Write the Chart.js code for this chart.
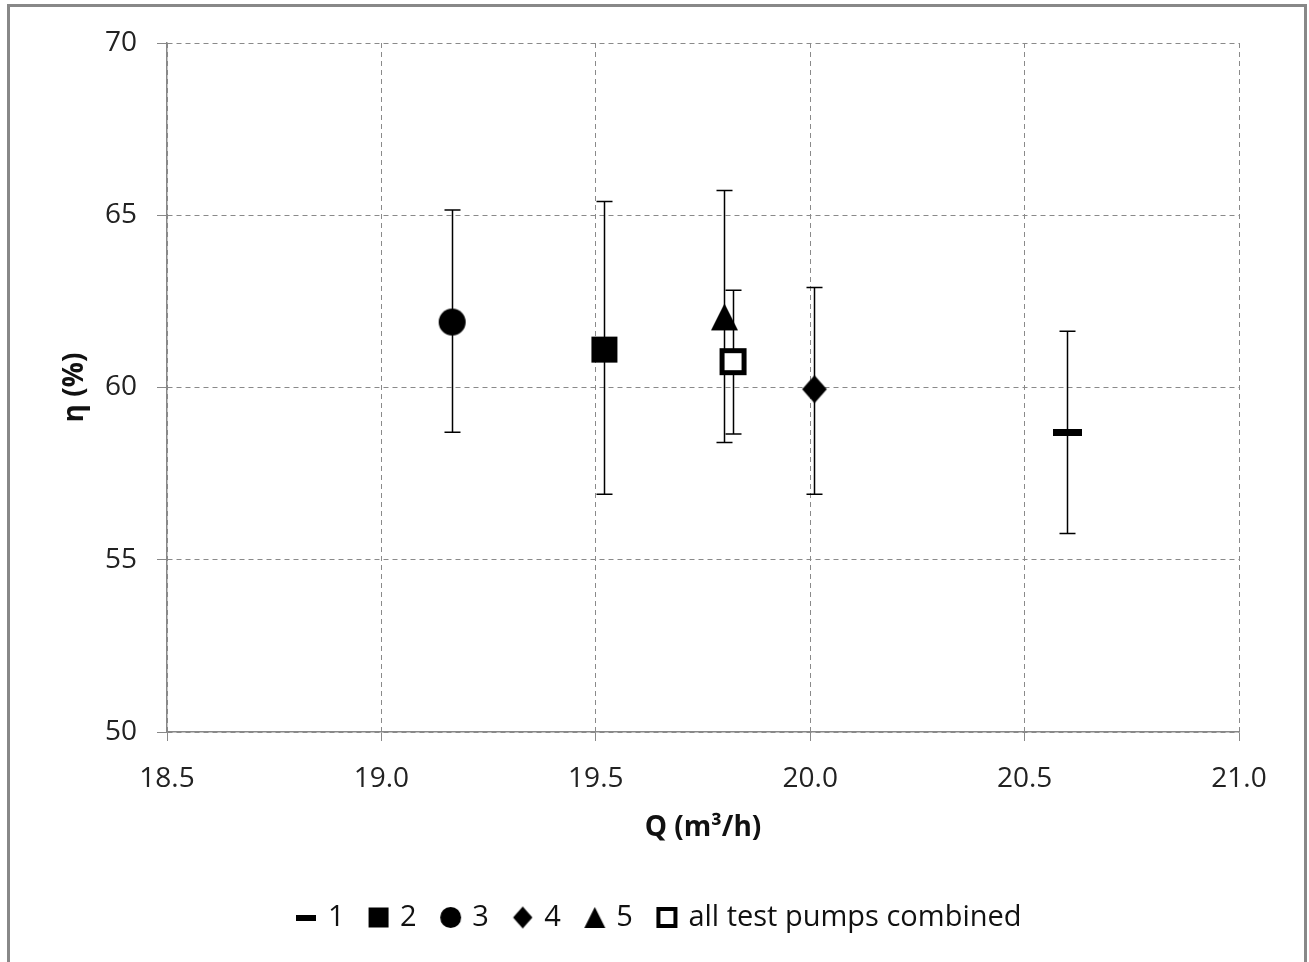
<!DOCTYPE html>
<html>
<head>
<meta charset="utf-8">
<script src="https://cdn.jsdelivr.net/npm/chart.js@4.4.1/dist/chart.umd.min.js"></script>
<style>
  html, body { margin: 0; padding: 0; background: #fff; }
  #wrap { width: 1309px; height: 962px; }
</style>
</head>
<body>
<div id="wrap"><canvas id="effChart" width="1309" height="962"></canvas></div>
<script>
// data
const seriesLabels = ['1', '2', '3', '4', '5', 'all test pumps combined'];
const flowQ = [20.60, 19.52, 19.165, 20.01, 19.80, 19.82];      // m3/h
const etaMean = [58.7, 61.1, 61.9, 59.95, 62.05, 60.75];        // %
const etaUpper = [61.63, 65.4, 65.15, 62.9, 65.72, 62.82];
const etaLower = [55.76, 56.9, 58.7, 56.9, 58.4, 58.65];
const xTicks = [18.5, 19.0, 19.5, 20.0, 20.5, 21.0];
const yTicks = [50, 55, 60, 65, 70];

const FONT = "'Open Sans', 'Noto Sans', sans-serif";

// marker drawing on little canvases, so the same shapes go in chart and legend
function marker(kind, s) {
  const c = document.createElement('canvas');
  const w = kind === 'dash' ? Math.round(s * 1.1) : s + 2;
  const h = kind === 'dash' ? Math.max(6, Math.round(s * 0.26)) : s + 2;
  c.width = w; c.height = h;
  const g = c.getContext('2d');
  g.fillStyle = '#000';
  if (kind === 'dash') {
    g.fillRect(0, 0, w, h);
  } else if (kind === 'square') {
    g.fillRect(1, 1, s, s);
  } else if (kind === 'circle') {
    g.beginPath(); g.arc(w / 2, h / 2, s / 2, 0, Math.PI * 2); g.fill();
  } else if (kind === 'diamond') {
    g.beginPath();
    g.moveTo(w / 2, 1); g.lineTo(w / 2 + s * 0.44, h / 2);
    g.lineTo(w / 2, h - 1); g.lineTo(w / 2 - s * 0.44, h / 2);
    g.closePath(); g.fill();
  } else if (kind === 'triangle') {
    g.beginPath();
    g.moveTo(w / 2, 1); g.lineTo(w - 1, h - 1); g.lineTo(1, h - 1);
    g.closePath(); g.fill();
  } else if (kind === 'open') {
    const b = Math.round(s * 0.19);
    g.fillRect(1, 1, s, s);
    g.fillStyle = '#fff';
    g.fillRect(1 + b, 1 + b, s - 2 * b, s - 2 * b);
  }
  return c;
}

const kinds = ['dash', 'square', 'circle', 'diamond', 'triangle', 'open'];
const chartSizes = [26, 26, 27, 28, 27, 27];
const legendSizes = [18, 20, 21, 22, 21, 21];
const chartMarkers = kinds.map((k, i) => marker(k, chartSizes[i]));
const legendMarkers = kinds.map((k, i) => marker(k, legendSizes[i]));

const datasets = seriesLabels.map((lbl, i) => ({
  label: lbl,
  data: [{ x: flowQ[i], y: etaMean[i] }],
  pointStyle: chartMarkers[i],
  backgroundColor: '#000',
  borderColor: '#000'
}));

// vertical error bars with caps, under the markers
const errorBars = {
  id: 'errorBars',
  beforeDatasetsDraw(chart) {
    const { ctx, scales: { x, y } } = chart;
    ctx.save();
    ctx.strokeStyle = '#000';
    ctx.lineWidth = 1.5;
    flowQ.forEach((q, i) => {
      const px = Math.round(x.getPixelForValue(q)) + 0.5;
      const top = y.getPixelForValue(etaUpper[i]);
      const bot = y.getPixelForValue(etaLower[i]);
      ctx.beginPath();
      ctx.moveTo(px, top); ctx.lineTo(px, bot);
      ctx.moveTo(px - 8, top); ctx.lineTo(px + 8, top);
      ctx.moveTo(px - 8, bot); ctx.lineTo(px + 8, bot);
      ctx.stroke();
    });
    ctx.restore();
  }
};

// grey frame around the whole picture, and the legend nudged to the right
const frame = {
  id: 'frame',
  afterLayout(chart) {
    if (chart.legend) { chart.legend.left += 36; chart.legend.right += 36; }
  },
  afterDraw(chart) {
    const ctx = chart.ctx;
    ctx.save();
    ctx.strokeStyle = '#888';
    ctx.lineWidth = 3;
    ctx.strokeRect(8.5, 5.5, 1297, 980);
    ctx.restore();
  }
};

new Chart(document.getElementById('effChart'), {
  type: 'scatter',
  data: { datasets },
  plugins: [errorBars, frame],
  options: {
    responsive: false,
    animation: false,
    layout: { padding: { left: 10, top: 43, right: 70, bottom: 20 } },
    elements: { point: { radius: 13, hoverRadius: 13 } },
    plugins: {
      tooltip: { enabled: false },
      legend: {
        position: 'bottom',
        labels: {
          usePointStyle: true,
          pointStyleWidth: 14,
          padding: 27,
          color: '#111',
          font: { family: FONT, size: 29 },
          generateLabels(chart) {
            return Chart.defaults.plugins.legend.labels.generateLabels(chart).map((it, i) => {
              it.pointStyle = legendMarkers[i];
              return it;
            });
          }
        }
      }
    },
    scales: {
      x: {
        type: 'linear',
        min: xTicks[0],
        max: xTicks[xTicks.length - 1],
        afterBuildTicks(scale) { scale.ticks = xTicks.map(v => ({ value: v })); },
        afterFit(scale) { scale.height = 144; },
        ticks: {
          color: '#222',
          padding: 21,
          font: { family: FONT, size: 28 },
          callback: v => Number(v).toFixed(1)
        },
        grid: {
          color: '#8a8a8a',
          tickLength: 9,
          tickColor: '#888',
          tickBorderDash: []
        },
        border: { display: true, color: '#888', width: 1.5, dash: [5, 4] },
        title: {
          display: true,
          text: 'Q (m³/h)',
          color: '#111',
          font: { family: FONT, size: 28, weight: 'bold' },
          padding: { top: 0, bottom: 31 }
        }
      },
      y: {
        type: 'linear',
        min: yTicks[0],
        max: yTicks[yTicks.length - 1],
        afterBuildTicks(scale) { scale.ticks = yTicks.map(v => ({ value: v })); },
        afterFit(scale) { scale.width = 157; },
        ticks: {
          color: '#222',
          padding: 20,
          font: { family: FONT, size: 28 }
        },
        grid: {
          color: '#8a8a8a',
          tickLength: 10,
          tickColor: '#888',
          tickBorderDash: []
        },
        border: { display: true, color: '#888', width: 1.5, dash: [5, 4] },
        title: {
          display: true,
          text: 'η (%)',
          color: '#111',
          font: { family: FONT, size: 28, weight: 'bold' },
          padding: { top: 48, bottom: 0 }
        }
      }
    }
  }
});
</script>
</body>
</html>
